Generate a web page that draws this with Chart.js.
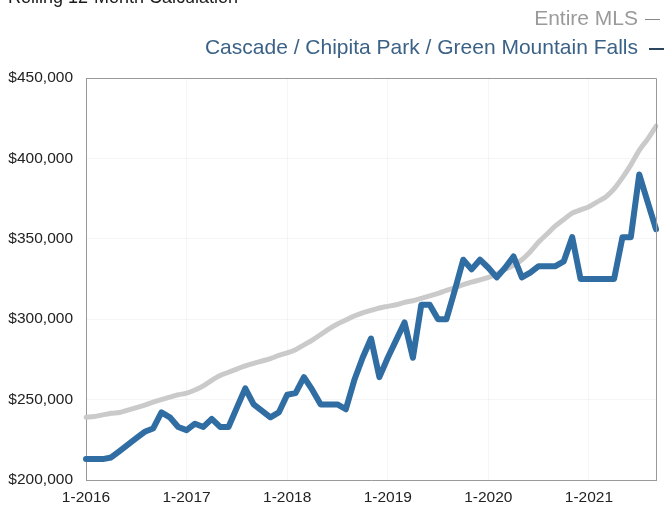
<!DOCTYPE html>
<html>
<head>
<meta charset="utf-8">
<script src="https://cdn.jsdelivr.net/npm/chart.js@4"></script>
<style>
    body { margin: 0; background: #fff; font-family: "Liberation Sans", Arial, sans-serif; }
    #wrap { position: relative; width: 668px; height: 507px; overflow: hidden; }
    #chart { position: absolute; left: 0; top: 0; }
    .title { position: absolute; left: 8px; top: -13px; font-size: 18px; color: #1a1a1a; white-space: nowrap; }
    .leg { position: absolute; right: 30px; font-size: 21px; white-space: nowrap; line-height: 24px; }
    .dash { position: absolute; width: 15px; height: 0; }
</style>
</head>
<body>
<div id="wrap">
    <canvas id="chart" width="668" height="507"></canvas>
    <div class="title">Rolling 12-Month Calculation</div>
    <div class="leg" style="top:6px; color:#9a9a9a;">Entire MLS</div>
    <div class="dash" style="left:645px; top:19px; border-top:1.5px solid #888;"></div>
    <div class="leg" style="top:35px; color:#3b6286;">Cascade / Chipita Park / Green Mountain Falls</div>
    <div class="dash" style="left:649px; top:48px; border-top:2px solid #2c4560;"></div>
</div>
<script>
// months 1-2016 .. 9-2021
const years = [2016, 2017, 2018, 2019, 2020, 2021];
const months = [];
years.forEach(y => {
    for (let m = 1; m <= 12; m++) {
        if (y === 2021 && m > 9) break;
        months.push(m + "-" + y);
    }
});

// values in thousands of dollars
const entireMls = [
    239, 239.5, 240.5, 241.5, 242, 243.5, 245, 246.5, 248.5, 250, 251.5, 253,
    254, 256, 258.5, 262, 265, 267, 269, 271, 272.5, 274, 275.5, 277.5,
    279, 281, 284, 287, 290.5, 294, 297, 299.5, 302, 304, 305.5, 307,
    308, 309, 310.5, 311.5, 313, 314.5, 316, 318, 319.5, 321.5, 323, 324.5,
    326, 328, 331, 333.5, 337, 342, 348, 353, 358, 362, 366, 368,
    370, 373, 376, 381, 388, 396, 405, 412, 420
];
const cascade = [
    213, 213, 213, 214, 218, 222, 226, 230, 232, 242, 239, 233,
    231, 235, 233, 238, 233, 233, 245, 257, 247, 243, 239, 242,
    253, 254, 264, 256, 247, 247, 247, 244, 262, 276, 288, 264,
    276, 287, 298, 276, 309, 309, 300, 300, 318, 337, 331, 337,
    332, 326, 332, 339, 326, 329, 333, 333, 333, 336, 351, 325,
    325, 325, 325, 325, 351, 351, 390, 373, 356
];
const yTicks = [200, 250, 300, 350, 400, 450];

const ctx = document.getElementById("chart");
new Chart(ctx, {
    type: "line",
    data: {
        labels: months,
        datasets: [{
            label: "Cascade / Chipita Park / Green Mountain Falls",
            data: cascade.map(v => v * 1000),
            borderColor: "#2f6da3",
            borderWidth: 6,
            pointRadius: 0,
            tension: 0,
            borderJoinStyle: "round",
            borderCapStyle: "round",
            order: 0
        }, {
            label: "Entire MLS",
            data: entireMls.map(v => v * 1000),
            borderColor: "#cacaca",
            borderWidth: 5,
            pointRadius: 0,
            tension: 0.3,
            borderCapStyle: "round",
            order: 1
        }]
    },
    options: {
        responsive: false,
        animation: false,
        layout: { padding: { top: 78, right: 12, left: 0, bottom: 0 } },
        plugins: { legend: { display: false }, tooltip: { enabled: false } },
        scales: {
            x: {
                offset: false,
                afterFit: s => { s.height = 27; },
                border: { color: "#999", width: 1 },
                grid: {
                    drawTicks: false,
                    color: c => (c.index % 12 === 0 ? "rgba(0,0,0,0.04)" : "rgba(0,0,0,0)")
                },
                ticks: {
                    autoSkip: false,
                    maxRotation: 0,
                    padding: 8,
                    color: "#222",
                    font: { family: "Liberation Sans", size: 15.5 },
                    callback: (v, i) => (i % 12 === 0 ? months[i] : "")
                }
            },
            y: {
                min: yTicks[0] * 1000,
                max: yTicks[yTicks.length - 1] * 1000,
                afterFit: s => { s.width = 86; },
                afterBuildTicks: s => { s.ticks = yTicks.map(v => ({ value: v * 1000 })); },
                border: { color: "#999", width: 1 },
                grid: { drawTicks: false, color: "rgba(0,0,0,0.04)" },
                ticks: {
                    padding: 13,
                    color: "#222",
                    font: { family: "Liberation Sans", size: 15.5 },
                    callback: v => "$" + v.toLocaleString("en-US")
                }
            }
        }
    },
    plugins: [{
        id: "frame",
        afterDraw(chart) {
            const a = chart.chartArea, c = chart.ctx;
            c.save();
            c.strokeStyle = "#999";
            c.lineWidth = 1;
            c.beginPath();
            c.moveTo(a.left, a.top + 0.5);
            c.lineTo(a.right + 0.5, a.top + 0.5);
            c.lineTo(a.right + 0.5, a.bottom);
            c.stroke();
            c.restore();
        }
    }]
});
</script>
</body>
</html>
